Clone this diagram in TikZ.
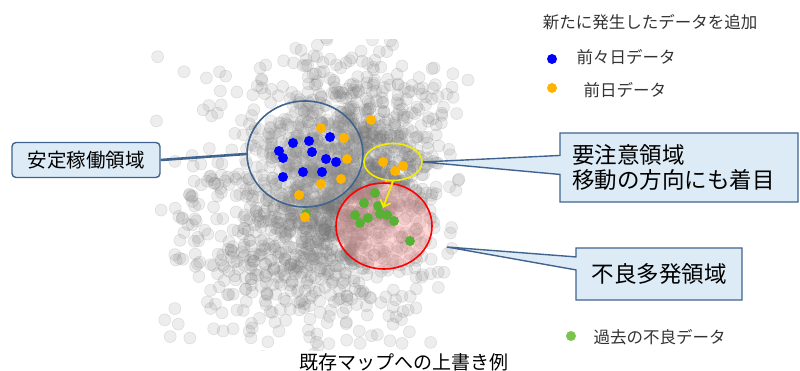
\documentclass[tikz,border=0pt]{standalone}
\usepackage{fontspec}
\setmainfont{Noto Sans CJK JP}
\usetikzlibrary{shapes.geometric,shapes.callouts,arrows.meta,positioning}
\definecolor{calline}{HTML}{41648F}
\definecolor{calfill}{HTML}{DCEBF6}
\definecolor{dotorange}{HTML}{FFB400}
\definecolor{dotgreen}{HTML}{58B135}
\definecolor{leggreen}{HTML}{7CC44F}
\definecolor{yline}{HTML}{F2EC00}
\tikzset{mapdot/.style={
            fill=black!55,
            fill opacity=0.13,
            draw=black!50,
            draw opacity=0.2,
            line width=0.6pt
        },
        dot/.style={
            circle,
            inner sep=0pt,
            minimum size=10pt
        },
        bluedot/.style={dot, fill=blue},
        orangedot/.style={dot, fill=dotorange},
        greendot/.style={dot, fill=dotgreen},
        region/.style={
            ellipse,
            draw,
            inner sep=0pt,
            line width=1.6pt
        },
        callbox/.style={
            rectangle callout,
            draw=calline,
            fill=calfill,
            line width=1.4pt
        },
        legtext/.style={
            anchor=west,
            text=black!80,
            font=\fontsize{16.5}{20}\selectfont
        }
    }

\begin{document}
\begin{tikzpicture}[x=1pt,y=-1pt]
        \useasboundingbox (0,0) rectangle (800,371);
        % existing map
        \begin{scope}
            \clip (140,40) rectangle (485,350);
            \pgfmathsetseed{4242}
            \foreach \i in {1,...,1150}{
                \pgfmathsetmacro\px{350+44*(rand+rand+rand)}
                \pgfmathsetmacro\py{170+55*(rand+rand+rand)}
                \path[mapdot] (\px,\py) circle[radius=6pt];
            }
            \foreach \i in {1,...,550}{
                \pgfmathsetmacro\px{290+48*(rand+rand+rand)}
                \pgfmathsetmacro\py{230+55*(rand+rand+rand)}
                \path[mapdot] (\px,\py) circle[radius=6pt];
            }
            \foreach \i in {1,...,140}{
                \pgfmathsetmacro\px{305+150*rand}
                \pgfmathsetmacro\py{200+145*rand}
                \path[mapdot] (\px,\py) circle[radius=6pt];
            }
        \end{scope}
        % regions
        \node[region, draw=red, fill=red!45!white, fill opacity=0.35, minimum width=96pt, minimum height=86pt] at (384,226) (badarea) {};
        \foreach \p in {(306,214),(375,193),(364,203),(378,206),(355,215),(360,223),(368,218),(380,214),(387,215),(394,221),(410,241)}
            \node[greendot] at \p {};
        \node[region, draw=calline, fill=white, fill opacity=0.12, minimum width=116pt, minimum height=106pt] at (305,154) (stablearea) {};
        \foreach \p in {(279,151),(283,158),(293,143),(309,141),(312,152),(330,137),(326,159),(336,162),(283,177),(303,172),(322,172)}
            \node[bluedot] at \p {};
        \foreach \p in {(321,128),(344,138),(347,159),(341,179),(321,184),(299,195),(371,120),(383,162),(395,171),(403,166),(305,217)}
            \node[orangedot] at \p {};
        \node[region, draw=yline, minimum width=58pt, minimum height=37pt] at (393,162) (watcharea) {};
        \coordinate (movetip) at (383,208);
        \draw[yline, line width=1.8pt, -{Straight Barb[length=6pt,width=11pt,line width=1.8pt]}] (watcharea.south) -- (movetip);
        % callouts
        \node[draw=calline, fill=calfill, line width=1.4pt, rounded corners=4pt, minimum width=148pt, minimum height=35pt, font=\fontsize{19.5}{22}\selectfont] at (86,160) (stable) {安定稼働領域};
        \draw[calline, line width=2.6pt] (stable.east) -- (stablearea.west);
        \node[callbox, callout absolute pointer={(watcharea.east)}, callout pointer width=19pt, minimum height=69pt, text width=214pt, inner xsep=12pt, align=left, font=\fontsize{22.5}{25}\selectfont] at (679,167.5) (watch) {要注意領域\\移動の方向にも着目};
        \coordinate (badtip) at (447,247);
        \node[callbox, callout absolute pointer={(badtip)}, callout pointer width=13pt, minimum width=166pt, minimum height=52pt, font=\fontsize{22.5}{25}\selectfont] at (659,274) (bad) {不良多発領域};
        % legend
        \node[text=black!80, font=\fontsize{16.5}{20}\selectfont] at (650,22) (legtitle) {新たに発生したデータを追加};
        \node[bluedot] at (552,59) (legblue) {};
        \node[legtext] at (573,57) (legbluetext) {前々日データ};
        \node[orangedot] at (552,88) (legorange) {};
        \node[legtext] at (580,90) (legorangetext) {前日データ};
        \node[dot, fill=leggreen] at (571,336) (leggreen) {};
        \node[legtext] at (590,337) (leggreentext) {過去の不良データ};
        \node[font=\fontsize{19}{22}\selectfont] at (404,362) (title) {既存マップへの上書き例};
    \end{tikzpicture}
\end{document}
